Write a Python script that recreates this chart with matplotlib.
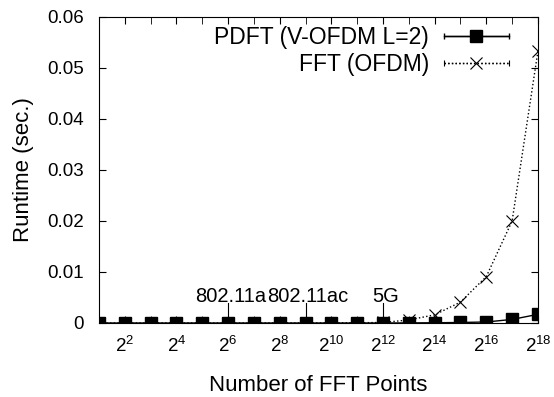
import matplotlib
matplotlib.use('Agg')
import matplotlib.pyplot as plt
from matplotlib.legend_handler import HandlerErrorbar
from matplotlib.container import ErrorbarContainer

plt.rcParams['font.family'] = ['Liberation Sans', 'DejaVu Sans']
plt.rcParams['mathtext.fontset'] = 'custom'
plt.rcParams['mathtext.rm'] = 'Liberation Sans'
plt.rcParams['mathtext.it'] = 'Liberation Sans'
plt.rcParams['mathtext.default'] = 'rm'

# log2 of number of FFT points
exps = list(range(1, 19))
pdft = [0, 0, 0, 0, 0, 0, 0, 0, 0, 0, 0, 0, 0.00002, 0.00005, 0.0001,
        0.0002, 0.0007, 0.0017]
fft = [0, 0, 0, 0, 0, 0, 0, 0, 0, 0.00002, 0.00005, 0.0001, 0.0006,
       0.0016, 0.0041, 0.0091, 0.0200, 0.0533]
labels = ['802.11a', '802.11ac', '5G']
label_exps = [6, 9, 12]

fig = plt.figure(figsize=(5.54, 3.97), dpi=100)
ax = fig.add_axes([0.1787, 0.1864, 0.7923, 0.7708])

ax.plot(exps, pdft, color='black', lw=1, marker='s', ms=8, zorder=3)
ax.plot(exps, fft, color='black', lw=1, ls=':', marker='x', ms=8, mew=0.8,
        zorder=2)

# legend proxies (gnuplot style: line with end ticks)
nan = float('nan')
h1 = ax.errorbar([nan], [nan], xerr=[0], color='black', lw=1, marker='s',
                 ms=8, capsize=2.5, elinewidth=1)
h2 = ax.errorbar([nan], [nan], xerr=[0], color='black', lw=1, ls=':',
                 marker='x', ms=8, mew=0.8, capsize=2.5, elinewidth=1)
h2[2][0].set_linestyle(':')

for lab, e in zip(labels, label_exps):
    ax.plot([e, e], [0, 0.0039], color='black', lw=0.8)
    ax.text(e + 0.1, 0.0042, lab, ha='center', va='baseline', fontsize=14.5)

ax.set_xlim(1, 18)
ax.set_ylim(0, 0.06)
ax.set_xticks(range(1, 19), minor=True)
ax.set_xticks(range(2, 19, 2))
ax.set_xticklabels(['$2^{%d}$' % e for e in range(2, 19, 2)])
ax.set_yticks([0, 0.01, 0.02, 0.03, 0.04, 0.05, 0.06])
ax.set_yticklabels(['0', '0.01', '0.02', '0.03', '0.04', '0.05', '0.06'])
ax.tick_params(which='both', direction='in', top=True, right=True,
               labelsize=13.5)
ax.tick_params(axis='y', pad=11)
ax.tick_params(axis='x', pad=9)
ax.tick_params(which='major', length=5)
ax.tick_params(which='minor', length=5)
ax.set_xlabel('Number of FFT Points', fontsize=16, labelpad=14)
ax.set_ylabel('Runtime (sec.)', fontsize=16, labelpad=9)

fs = 16.5
hl = 2.85
ax.legend([h1, h2], ['PDFT (V-OFDM L=2)', 'FFT (OFDM)'], loc='upper right',
          frameon=False, fontsize=fs, markerfirst=False, handlelength=hl,
          handletextpad=0.65, bbox_to_anchor=(0.955, 1.0), borderaxespad=0,
          labelspacing=0.15,
          handler_map={ErrorbarContainer: HandlerErrorbar(xerr_size=hl / 2)})

fig.savefig('out.png', dpi=100)
